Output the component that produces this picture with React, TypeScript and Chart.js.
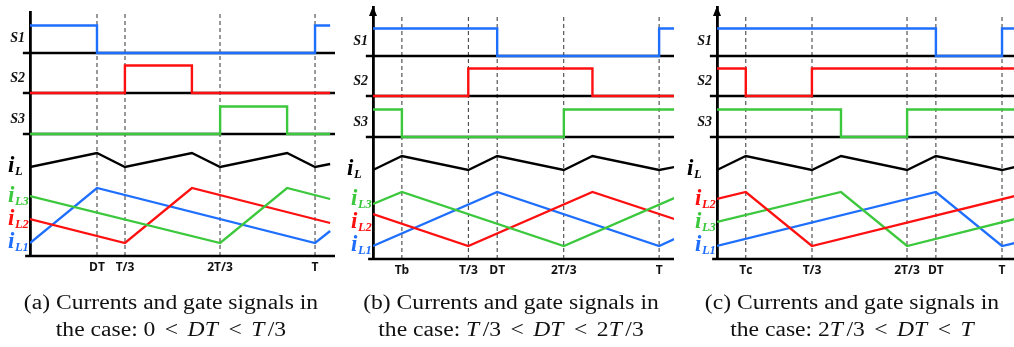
import React, { useEffect, useRef } from 'react';
import { Chart, registerables } from 'chart.js';

Chart.register(...registerables);

type Pt = [number, number];

// ---------- Panel (a): 0 < DT < T/3 (time in units of T) ----------
const A_TICK_VALUES = [0.235, 1 / 3, 2 / 3, 1];
const A_TICK_LABELS = ['DT', 'T/3', '2T/3', 'T'];
const A_S1: Pt[] = [[0, 1], [0.235, 0], [1, 1], [1.053, 1]];
const A_S2: Pt[] = [[0, 0], [0.333, 1], [0.568, 0], [1.053, 0]];
const A_S3: Pt[] = [[0, 0], [0.667, 1], [0.902, 0], [1.053, 0]];
const A_IL: Pt[] = [[0, 89], [0.235, 103], [0.333, 89], [0.568, 103], [0.667, 89], [0.902, 103], [1, 89], [1.053, 92]];
const A_IL1: Pt[] = [[0, 13], [0.235, 68], [1, 13], [1.053, 25]];
const A_IL2: Pt[] = [[0, 37], [0.333, 13], [0.568, 68], [1.053, 33]];
const A_IL3: Pt[] = [[0, 60], [0.667, 13], [0.902, 68], [1.053, 57]];

// ---------- Panel (b): T/3 < DT < 2T/3 ----------
const B_TICK_VALUES = [0.101, 1 / 3, 0.434, 2 / 3, 1];
const B_TICK_LABELS = ['Tb', 'T/3', 'DT', '2T/3', 'T'];
const B_S1: Pt[] = [[0, 1], [0.434, 0], [1, 1], [1.053, 1]];
const B_S2: Pt[] = [[0, 0], [0.333, 1], [0.767, 0], [1.053, 0]];
const B_S3: Pt[] = [[0, 1], [0.101, 0], [0.667, 1], [1.053, 1]];
const B_IL: Pt[] = [[0, 89], [0.101, 103], [0.333, 89], [0.434, 103], [0.667, 89], [0.767, 103], [1, 89], [1.053, 92]];
const B_IL1: Pt[] = [[0, 13], [0.434, 67], [1, 13], [1.053, 20]];
const B_IL2: Pt[] = [[0, 45], [0.333, 13], [0.767, 67], [1.053, 40]];
const B_IL3: Pt[] = [[0, 55], [0.101, 67], [0.667, 13], [1.053, 61]];

// ---------- Panel (c): 2T/3 < DT < T ----------
const C_TICK_VALUES = [0.101, 1 / 3, 2 / 3, 0.768, 1];
const C_TICK_LABELS = ['Tc', 'T/3', '2T/3', 'DT', 'T'];
const C_S1: Pt[] = [[0, 1], [0.768, 0], [1, 1], [1.06, 1]];
const C_S2: Pt[] = [[0, 1], [0.101, 0], [0.333, 1], [1.06, 1]];
const C_S3: Pt[] = [[0, 1], [0.435, 0], [0.667, 1], [1.06, 1]];
const C_IL: Pt[] = [[0, 89], [0.101, 103], [0.333, 89], [0.435, 103], [0.667, 89], [0.768, 103], [1, 89], [1.06, 93]];
const C_IL1: Pt[] = [[0, 13], [0.768, 67], [1, 13], [1.06, 17]];
const C_IL2: Pt[] = [[0, 60], [0.101, 67], [0.333, 13], [1.06, 64]];
const C_IL3: Pt[] = [[0, 37], [0.435, 67], [0.667, 13], [1.06, 41]];

const GATE_NAMES = ['S1', 'S2', 'S3'];
const CAPTION_TITLES = ['(a) Currents and gate signals in', '(b) Currents and gate signals in', '(c) Currents and gate signals in'];

// ---------- styling / layout ----------
const BLUE = '#1f6fff';
const RED = '#ff1010';
const GREEN = '#3cc83c';
const GATE_COLORS = [BLUE, RED, GREEN];
const GATE_BASE = [203, 163, 122];
const GATE_AMP = 27.5;
const DASH_TOP = 244;
const CANVAS_H = 290;

type Phase = { sub: string; color: string; data: Pt[] };
type Panel = {
  left: number; width: number; padLeft: number; padRight: number; padTop: number; padBottom: number;
  xMax: number; yMax: number; arrow: boolean; iLOffset: number;
  ticks: number[]; tickLabels: string[]; gates: Pt[][]; iL: Pt[]; phases: Phase[];
};

const PHASE_LABEL_Y = [54, 31, 8];
const IL_LABEL_Y = 84;

const PANELS: Panel[] = [
  {
    left: 0, width: 340, padLeft: 30, padRight: 5, padTop: 12, padBottom: 14, xMax: 1.07, yMax: 244, arrow: false, iLOffset: 22,
    ticks: A_TICK_VALUES, tickLabels: A_TICK_LABELS, gates: [A_S1, A_S2, A_S3], iL: A_IL,
    phases: [
      { sub: 'L3', color: GREEN, data: A_IL3 },
      { sub: 'L2', color: RED, data: A_IL2 },
      { sub: 'L1', color: BLUE, data: A_IL1 },
    ],
  },
  {
    left: 340, width: 340, padLeft: 33, padRight: 6, padTop: 7, padBottom: 11, xMax: 1.052, yMax: 252, arrow: true, iLOffset: 26,
    ticks: B_TICK_VALUES, tickLabels: B_TICK_LABELS, gates: [B_S1, B_S2, B_S3], iL: B_IL,
    phases: [
      { sub: 'L3', color: GREEN, data: B_IL3 },
      { sub: 'L2', color: RED, data: B_IL2 },
      { sub: 'L1', color: BLUE, data: B_IL1 },
    ],
  },
  {
    left: 680, width: 334, padLeft: 37, padRight: 0, padTop: 7, padBottom: 11, xMax: 1.042, yMax: 252, arrow: true, iLOffset: 30,
    ticks: C_TICK_VALUES, tickLabels: C_TICK_LABELS, gates: [C_S1, C_S2, C_S3], iL: C_IL,
    phases: [
      { sub: 'L2', color: RED, data: C_IL2 },
      { sub: 'L3', color: GREEN, data: C_IL3 },
      { sub: 'L1', color: BLUE, data: C_IL1 },
    ],
  },
];

function makeLabelPlugin(p: Panel) {
  return {
    id: 'sideLabels',
    afterDatasetsDraw(chart: any) {
      const { ctx, chartArea } = chart;
      const y = chart.scales.y;
      const ax = chartArea.left;
      ctx.save();
      if (p.arrow) {
        ctx.fillStyle = '#000';
        ctx.beginPath();
        ctx.moveTo(ax, chartArea.top - 1);
        ctx.lineTo(ax - 4, chartArea.top + 9);
        ctx.lineTo(ax + 4, chartArea.top + 9);
        ctx.closePath();
        ctx.fill();
      }
      ctx.fillStyle = '#111';
      ctx.textAlign = 'right';
      ctx.textBaseline = 'alphabetic';
      ctx.font = 'italic bold 14px "Liberation Serif"';
      GATE_NAMES.forEach((n, i) => {
        ctx.fillText(n, ax - 5, y.getPixelForValue(GATE_BASE[i] + 11.5));
      });
      ctx.textAlign = 'left';
      const drawI = (x: number, yy: number, sub: string, color: string) => {
        ctx.fillStyle = color;
        ctx.font = 'italic bold 23px "Liberation Serif"';
        ctx.fillText('i', x, yy);
        const w = ctx.measureText('i').width;
        ctx.font = 'italic bold 12.5px "Liberation Serif"';
        ctx.fillText(sub, x + w + 0.5, yy + 3);
      };
      drawI(ax - p.iLOffset, y.getPixelForValue(IL_LABEL_Y), 'L', '#000');
      p.phases.forEach((ph, i) => {
        drawI(ax - 22, y.getPixelForValue(PHASE_LABEL_Y[i]), ph.sub, ph.color);
      });
      ctx.restore();
    },
  };
}

const toXY = (pts: Pt[]) => pts.map(([x, y]) => ({ x, y }));

function PanelChart({ p }: { p: Panel }) {
  const ref = useRef<HTMLCanvasElement>(null);
  useEffect(() => {
    const canvas = ref.current!;
    const datasets: any[] = [];
    p.ticks.forEach((v) =>
      datasets.push({
        data: [{ x: v, y: 0 }, { x: v, y: DASH_TOP }],
        borderColor: '#333', borderWidth: 1, borderDash: [4, 3], order: 10, pointRadius: 0,
      })
    );
    datasets.push({
      data: [{ x: -0.017, y: 0 }, { x: p.xMax, y: 0 }],
      borderColor: '#000', borderWidth: 2.5, order: 6, pointRadius: 0, clip: false,
    });
    GATE_BASE.forEach((b) =>
      datasets.push({
        data: [{ x: -0.025, y: b }, { x: p.xMax, y: b }],
        borderColor: '#000', borderWidth: 2.5, order: 5, pointRadius: 0, clip: false,
      })
    );
    p.gates.forEach((g, i) =>
      datasets.push({
        data: g.map(([t, v]) => ({ x: t, y: GATE_BASE[i] + v * GATE_AMP })),
        stepped: 'before', borderColor: GATE_COLORS[i], borderWidth: 2.4, order: 1, pointRadius: 0,
      })
    );
    datasets.push({ data: toXY(p.iL), borderColor: '#000', borderWidth: 2.3, order: 1, pointRadius: 0 });
    p.phases.forEach((ph) =>
      datasets.push({ data: toXY(ph.data), borderColor: ph.color, borderWidth: 2.3, order: 1, pointRadius: 0 })
    );

    const chart = new Chart(canvas, {
      type: 'line',
      data: { datasets },
      plugins: [makeLabelPlugin(p)],
      options: {
        responsive: false,
        animation: false,
        devicePixelRatio: 1,
        events: [],
        layout: { padding: { left: p.padLeft, right: p.padRight, top: p.padTop, bottom: p.padBottom } },
        plugins: { legend: { display: false }, tooltip: { enabled: false }, title: { display: false } },
        elements: { line: { tension: 0, borderCapStyle: 'butt', borderJoinStyle: 'miter' }, point: { radius: 0 } },
        scales: {
          x: {
            type: 'linear', min: 0, max: p.xMax,
            grid: { display: false, drawTicks: false },
            border: { display: false },
            afterBuildTicks: (s: any) => { s.ticks = p.ticks.map((v) => ({ value: v })); },
            afterFit: (s: any) => { s.height = 20; },
            ticks: {
              autoSkip: false, maxRotation: 0, minRotation: 0, padding: 4, color: '#111',
              font: { family: '"Open Sans"', weight: 'bold', size: 12 },
              callback: (_v: any, i: number) => p.tickLabels[i],
            },
          },
          y: {
            type: 'linear', min: 0, max: p.yMax,
            grid: { display: false, drawTicks: false },
            border: { display: true, color: '#000', width: 2.8 },
            ticks: { display: false },
            afterFit: (s: any) => { s.width = 0; },
          },
        },
      } as any,
    });
    return () => chart.destroy();
  }, [p]);
  return (
    <canvas
      ref={ref}
      width={p.width}
      height={CANVAS_H}
      style={{ position: 'absolute', left: p.left, top: 0, width: p.width, height: CANVAS_H }}
    />
  );
}

const Rel = () => <span style={{ margin: '0 0.4em' }}>&lt;</span>;
const It = ({ children, r = 0 }: { children: any; r?: number }) => (
  <i style={{ marginRight: `${r}em` }}>{children}</i>
);

const CONDITIONS = [
  <>the case: 0<Rel /><It r={0.05}>DT</It><Rel /><It r={0.15}>T</It>/3</>,
  <>the case: <It r={0.15}>T</It>/3<Rel /><It r={0.05}>DT</It><Rel />2<It r={0.15}>T</It>/3</>,
  <>the case: 2<It r={0.15}>T</It>/3<Rel /><It r={0.05}>DT</It><Rel /><It>T</It></>,
];
const CAPTION_CENTERS = [171, 511, 852];

export default function App() {
  return (
    <div style={{ position: 'absolute', left: 0, top: 0, width: 1014, height: 347, background: '#fff', overflow: 'hidden' }}>
      {PANELS.map((p, i) => (
        <PanelChart key={i} p={p} />
      ))}
      {CAPTION_TITLES.map((t, i) => (
        <div
          key={i}
          style={{
            position: 'absolute', left: CAPTION_CENTERS[i] - 170, top: 289, width: 340,
            textAlign: 'center', fontFamily: '"Liberation Serif", serif', fontSize: 20, lineHeight: '27px',
            color: '#111', transform: 'scaleX(1.18)', transformOrigin: 'center', whiteSpace: 'nowrap',
          }}
        >
          <div>{t}</div>
          <div>{CONDITIONS[i]}</div>
        </div>
      ))}
    </div>
  );
}
